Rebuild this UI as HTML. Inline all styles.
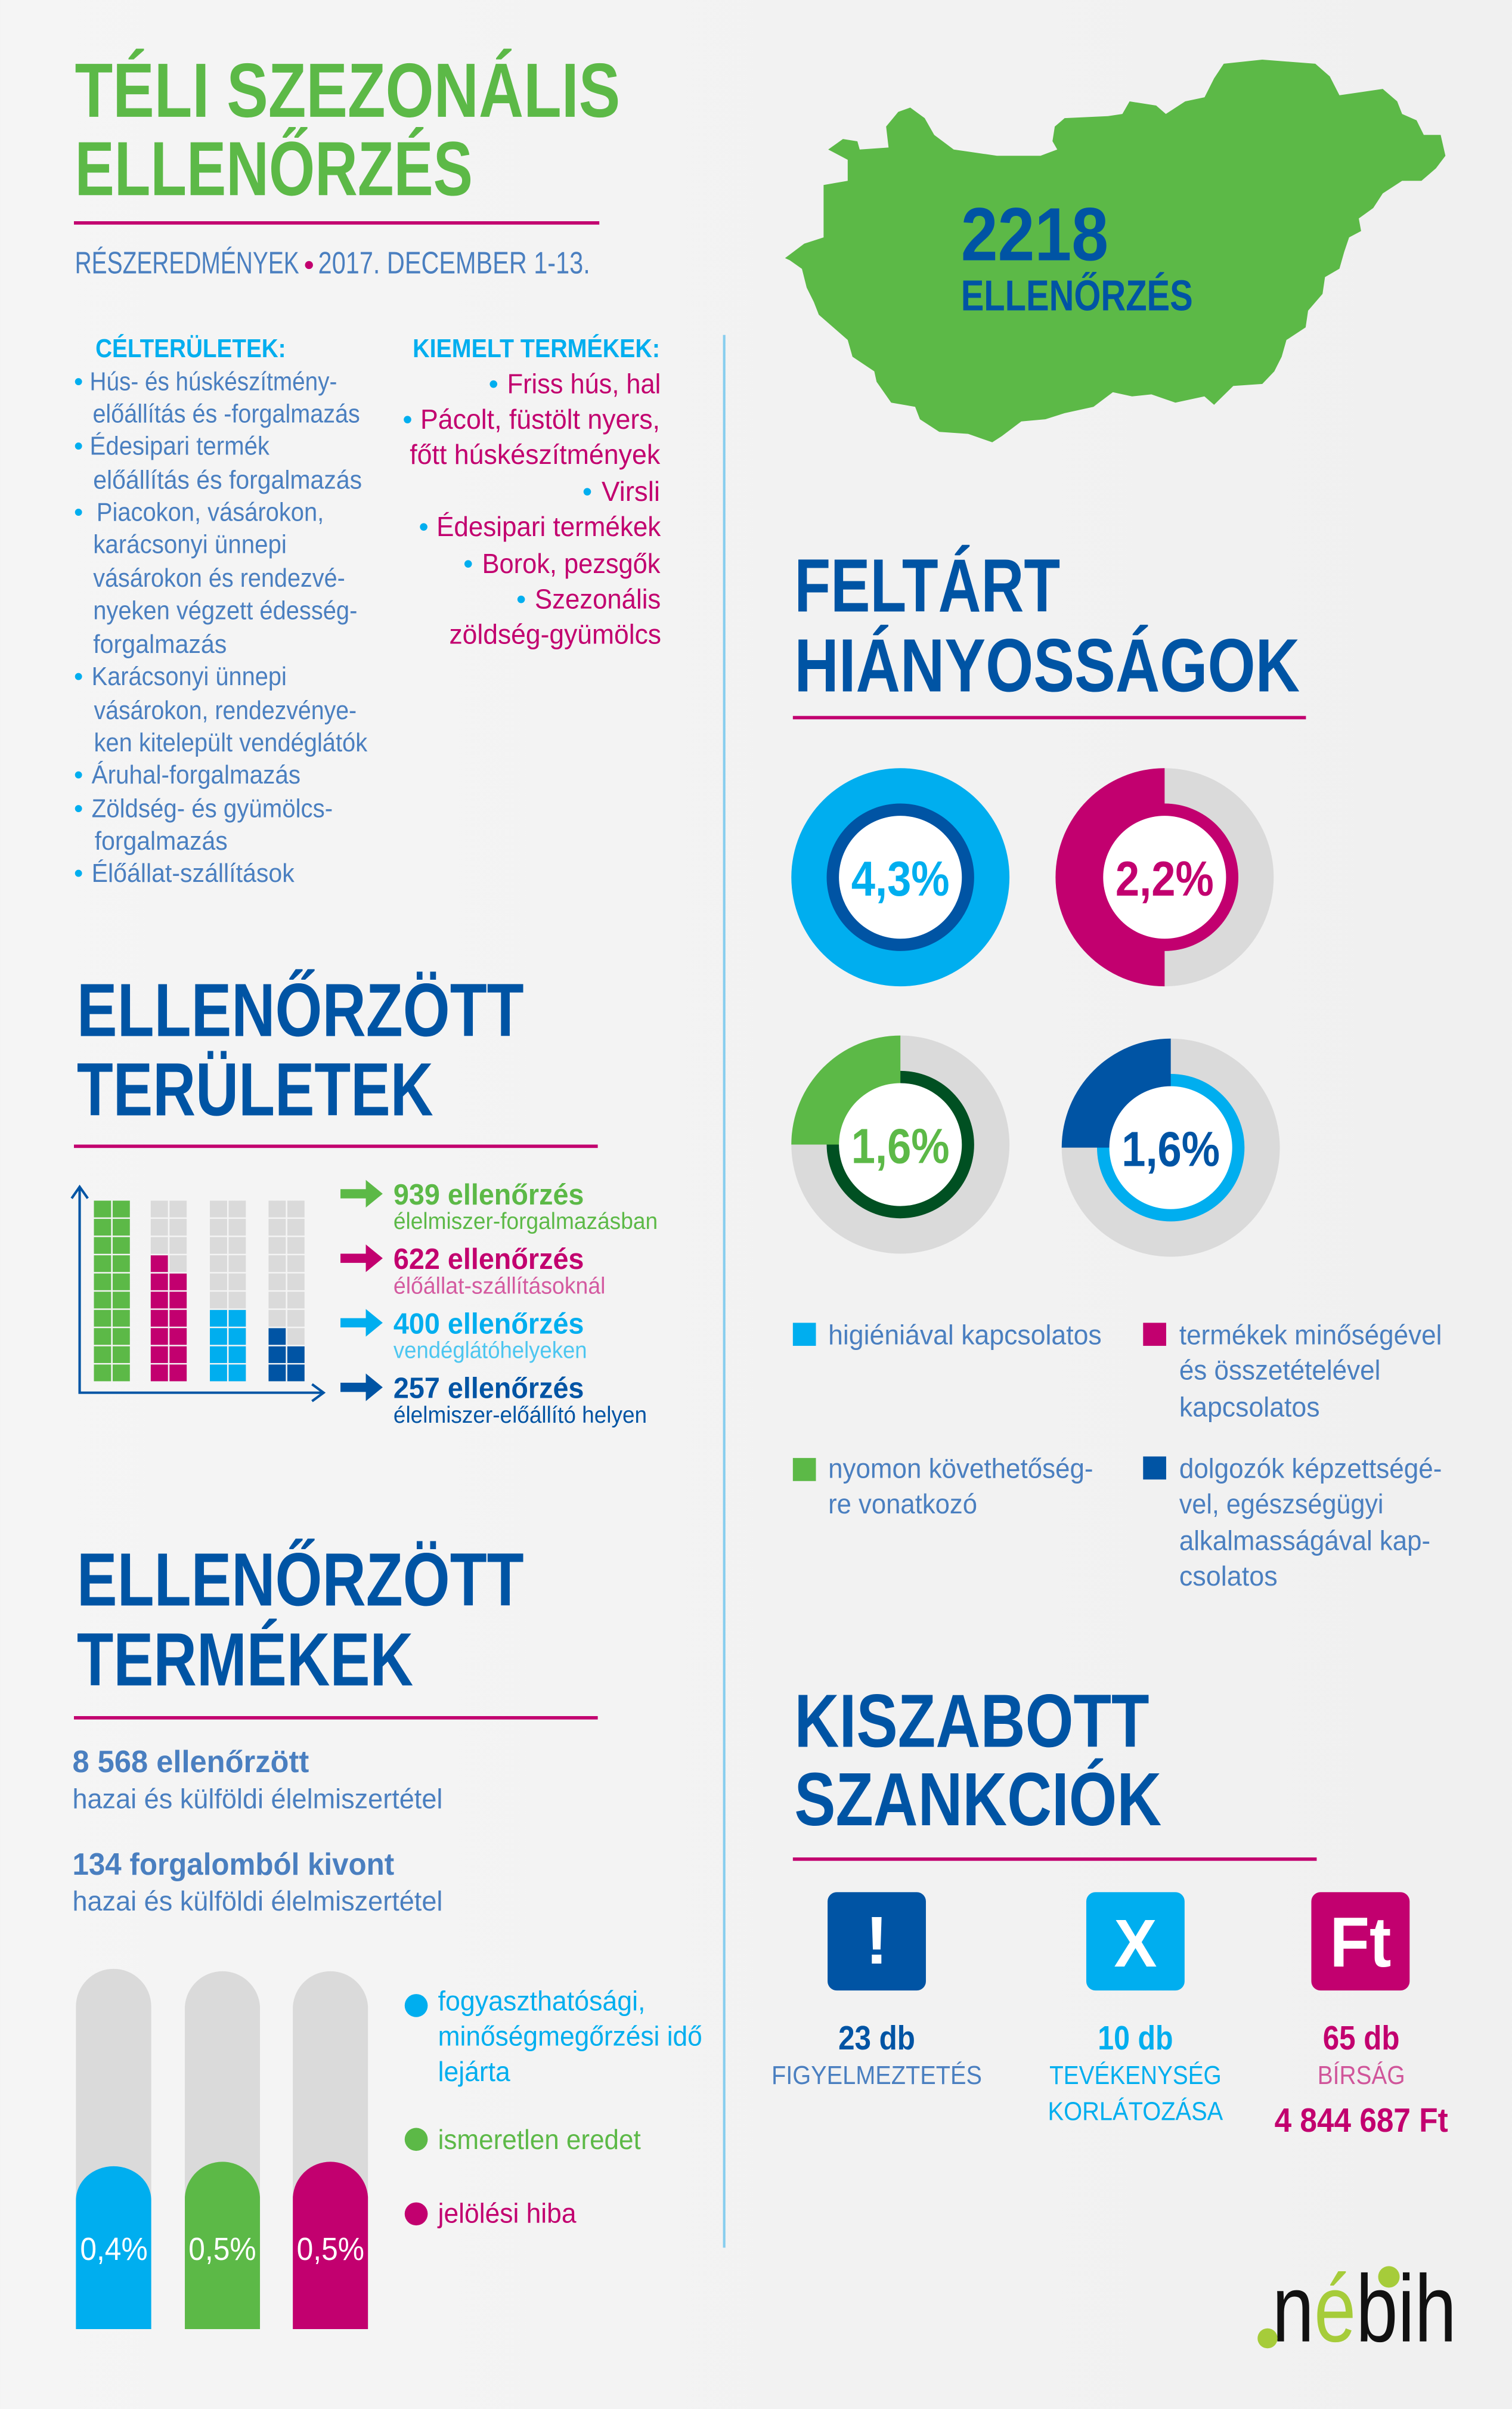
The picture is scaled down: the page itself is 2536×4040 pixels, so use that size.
<!DOCTYPE html>
<html><head><meta charset="utf-8"><style>
html,body{margin:0;padding:0;background:#f2f2f2;}
svg{display:block}
text{font-family:"Liberation Sans",sans-serif;}
.h{font-weight:bold;fill:#0054a4}
.b{fill:#4a7fc0}
.m{fill:#c2006f}
.c{fill:#00aeef}
</style></head><body>
<svg width="2536" height="4040" viewBox="0 0 984 1568" xmlns="http://www.w3.org/2000/svg">
<defs><linearGradient id="bg" x1="0" x2="1"><stop offset="0" stop-color="#f5f5f5"/><stop offset="1" stop-color="#f0f0f0"/></linearGradient></defs>
<rect width="984" height="1568" fill="url(#bg)"/>

<!-- Title -->
<text x="48.6" y="76" font-size="50" font-weight="bold" fill="#5cb947" textLength="355" lengthAdjust="spacingAndGlyphs">TÉLI SZEZONÁLIS</text>
<text x="48.6" y="127" font-size="50" font-weight="bold" fill="#5cb947" textLength="259" lengthAdjust="spacingAndGlyphs">ELLENŐRZÉS</text>
<rect x="48" y="144" width="342" height="2.2" fill="#c2006f"/>
<text x="48.6" y="178" font-size="20" fill="#4a7fc0" textLength="146" lengthAdjust="spacingAndGlyphs">RÉSZEREDMÉNYEK</text>
<circle cx="201" cy="172.5" r="2.6" fill="#c2006f"/>
<text x="207" y="178" font-size="20" fill="#4a7fc0" textLength="177" lengthAdjust="spacingAndGlyphs">2017. DECEMBER 1-13.</text>

<rect x="470.5" y="218" width="1.6" height="1245" fill="#86cdee"/>

<!-- Célterületek -->
<text x="62" y="232.5" font-size="17" font-weight="bold" class="c" textLength="124" lengthAdjust="spacingAndGlyphs">CÉLTERÜLETEK:</text>
<g class="b" font-size="17">
<text x="48" y="254" fill="#00aeef">•</text><text x="58.3" y="254" textLength="161" lengthAdjust="spacingAndGlyphs">Hús- és húskészítmény-</text>
<text x="60.2" y="275" textLength="174" lengthAdjust="spacingAndGlyphs">előállítás és -forgalmazás</text>
<text x="48" y="296" fill="#00aeef">•</text><text x="58.3" y="296" textLength="117" lengthAdjust="spacingAndGlyphs">Édesipari termék</text>
<text x="60.5" y="318" textLength="175" lengthAdjust="spacingAndGlyphs">előállítás és forgalmazás</text>
<text x="48" y="339" fill="#00aeef">•</text><text x="62.7" y="339" textLength="148" lengthAdjust="spacingAndGlyphs">Piacokon, vásárokon,</text>
<text x="60.5" y="360" textLength="126" lengthAdjust="spacingAndGlyphs">karácsonyi ünnepi</text>
<text x="60.5" y="382" textLength="164" lengthAdjust="spacingAndGlyphs">vásárokon és rendezvé-</text>
<text x="60.5" y="403" textLength="172" lengthAdjust="spacingAndGlyphs">nyeken végzett édesség-</text>
<text x="60.5" y="425" textLength="87" lengthAdjust="spacingAndGlyphs">forgalmazás</text>
<text x="48" y="446" fill="#00aeef">•</text><text x="59.5" y="446" textLength="127" lengthAdjust="spacingAndGlyphs">Karácsonyi ünnepi</text>
<text x="61" y="468" textLength="171" lengthAdjust="spacingAndGlyphs">vásárokon, rendezvénye-</text>
<text x="61" y="489" textLength="178" lengthAdjust="spacingAndGlyphs">ken kitelepült vendéglátók</text>
<text x="48" y="510" fill="#00aeef">•</text><text x="59.5" y="510" textLength="136" lengthAdjust="spacingAndGlyphs">Áruhal-forgalmazás</text>
<text x="48" y="532" fill="#00aeef">•</text><text x="59.5" y="532" textLength="157" lengthAdjust="spacingAndGlyphs">Zöldség- és gyümölcs-</text>
<text x="61.5" y="553" textLength="86.5" lengthAdjust="spacingAndGlyphs">forgalmazás</text>
<text x="48" y="574" fill="#00aeef">•</text><text x="59.5" y="574" textLength="132" lengthAdjust="spacingAndGlyphs">Élőállat-szállítások</text>
</g>

<!-- Kiemelt -->
<text x="268.5" y="232.5" font-size="17" font-weight="bold" class="c" textLength="161" lengthAdjust="spacingAndGlyphs">KIEMELT TERMÉKEK:</text>
<g class="m" font-size="18">
<text x="318" y="256" fill="#00aeef">•</text><text x="330" y="256" textLength="100" lengthAdjust="spacingAndGlyphs">Friss hús, hal</text>
<text x="262" y="279" fill="#00aeef">•</text><text x="273.5" y="279" textLength="156" lengthAdjust="spacingAndGlyphs">Pácolt, füstölt nyers,</text>
<text x="266.6" y="302" textLength="163" lengthAdjust="spacingAndGlyphs">főtt húskészítmények</text>
<text x="379" y="326" fill="#00aeef">•</text><text x="391.5" y="326" textLength="38" lengthAdjust="spacingAndGlyphs">Virsli</text>
<text x="272.5" y="349" fill="#00aeef">•</text><text x="284" y="349" textLength="146" lengthAdjust="spacingAndGlyphs">Édesipari termékek</text>
<text x="301.5" y="373" fill="#00aeef">•</text><text x="313.7" y="373" textLength="116" lengthAdjust="spacingAndGlyphs">Borok, pezsgők</text>
<text x="336" y="396" fill="#00aeef">•</text><text x="348" y="396" textLength="82" lengthAdjust="spacingAndGlyphs">Szezonális</text>
<text x="292.3" y="419" textLength="138" lengthAdjust="spacingAndGlyphs">zöldség-gyümölcs</text>
</g>

<!-- Map -->
<polygon fill="#5cb947" points="510.9,168 523.4,158.6 536,154.5 536,120.4 551.7,117.7 551.7,104 539,97.3 548.6,90.5 558,92 559.5,97.3 578.3,96 576.7,82.4 584.6,72.8 592.4,70 601.8,76.9 608,87.8 620.7,97.3 648.9,101.4 677.2,101.4 688.1,97.3 685,91.9 686.5,82.4 692.9,76.9 721.1,75.6 730.5,74.2 735.2,66 752.5,68.7 758.8,74.2 771.4,66 784,63.3 790.2,51 796.5,41.5 821.6,38.8 856.1,41.5 865.5,49.7 871.8,62 900,57.9 909.4,66 912.6,74.2 922,78.3 926.7,87.8 937.7,87.8 940.8,101.4 934.6,109.6 925.2,117.7 912.6,117.7 900,125.9 893.8,135.4 884.4,142.2 885.9,150.4 878.1,154.5 874.9,164 871.8,174.9 862.4,180.4 860.8,191.3 851.4,202.2 849.8,213.1 837.3,221.3 834.2,232.2 829.4,241.7 821.6,249.9 802.7,251.2 790.2,263.5 783.9,258 765,262.1 749.4,256.7 736.8,258 724.3,255.3 711.7,264.8 692.9,268.9 680.4,272.9 664.7,274.3 652.1,283.8 645.8,287.9 630.1,282.4 611.3,281.1 598.7,272.9 595.6,264.8 580,262.1 570.5,248.5 569,241.7 554.8,232.2 551.7,221.3 542.3,213.1 532.9,204.9 529.7,196.7 525,187.2 521.9,175 514,169.4"/>
<text x="625.4" y="169.5" class="h" font-size="49" textLength="96" lengthAdjust="spacingAndGlyphs">2218</text>
<text x="625.4" y="202" class="h" font-size="28" textLength="151" lengthAdjust="spacingAndGlyphs">ELLENŐRZÉS</text>

<!-- Feltárt -->
<text x="517" y="398" class="h" font-size="49" textLength="173" lengthAdjust="spacingAndGlyphs">FELTÁRT</text>
<text x="517" y="450" class="h" font-size="49" textLength="329" lengthAdjust="spacingAndGlyphs">HIÁNYOSSÁGOK</text>
<rect x="516" y="466" width="334" height="2.2" fill="#c2006f"/>

<!-- Donuts -->
<g>
<circle cx="586" cy="571" r="71" fill="#00aeef"/>
<circle cx="586" cy="571" r="48" fill="#0054a4"/>
<circle cx="586" cy="571" r="40" fill="#fff"/>
<text x="586" y="583" text-anchor="middle" font-size="32" font-weight="bold" fill="#00aeef" textLength="64" lengthAdjust="spacingAndGlyphs">4,3%</text>

<circle cx="758" cy="571" r="71" fill="#dadada"/>
<path d="M758,500 A71,71 0 0 0 758,642 Z" fill="#c2006f"/>
<circle cx="758" cy="571" r="48" fill="#c2006f"/>
<circle cx="758" cy="571" r="40" fill="#fff"/>
<text x="758" y="583" text-anchor="middle" font-size="32" font-weight="bold" fill="#c2006f" textLength="64" lengthAdjust="spacingAndGlyphs">2,2%</text>

<circle cx="586" cy="745" r="71" fill="#dadada"/>
<circle cx="586" cy="745" r="48" fill="#005022"/>
<path d="M586,745 L515,745 A71,71 0 0 1 586,674 Z" fill="#5cb947"/>
<circle cx="586" cy="745" r="40" fill="#fff"/>
<text x="586" y="757" text-anchor="middle" font-size="32" font-weight="bold" fill="#5cb947" textLength="64" lengthAdjust="spacingAndGlyphs">1,6%</text>

<circle cx="762" cy="747" r="71" fill="#dadada"/>
<circle cx="762" cy="747" r="48" fill="#00aeef"/>
<path d="M762,747 L691,747 A71,71 0 0 1 762,676 Z" fill="#0054a4"/>
<circle cx="762" cy="747" r="40" fill="#fff"/>
<text x="762" y="759" text-anchor="middle" font-size="32" font-weight="bold" fill="#0054a4" textLength="64" lengthAdjust="spacingAndGlyphs">1,6%</text>
</g>

<!-- Legend -->
<g class="b" font-size="18">
<rect x="516" y="861" width="15" height="15" fill="#00aeef"/>
<text x="539" y="875" textLength="178" lengthAdjust="spacingAndGlyphs">higiéniával kapcsolatos</text>
<rect x="744" y="861" width="15" height="15" fill="#c2006f"/>
<text x="767.5" y="875" textLength="171" lengthAdjust="spacingAndGlyphs">termékek minőségével</text>
<text x="767.5" y="898" textLength="131" lengthAdjust="spacingAndGlyphs">és összetételével</text>
<text x="767.5" y="922" textLength="91.5" lengthAdjust="spacingAndGlyphs">kapcsolatos</text>
<rect x="516" y="949" width="15" height="15" fill="#5cb947"/>
<text x="539" y="962" textLength="172.5" lengthAdjust="spacingAndGlyphs">nyomon követhetőség-</text>
<text x="539" y="985" textLength="97" lengthAdjust="spacingAndGlyphs">re vonatkozó</text>
<rect x="744" y="948" width="15" height="15" fill="#0054a4"/>
<text x="767.5" y="962" textLength="171" lengthAdjust="spacingAndGlyphs">dolgozók képzettségé-</text>
<text x="767.5" y="985" textLength="133" lengthAdjust="spacingAndGlyphs">vel, egészségügyi</text>
<text x="767.5" y="1009" textLength="163.5" lengthAdjust="spacingAndGlyphs">alkalmasságával kap-</text>
<text x="767.5" y="1032" textLength="64" lengthAdjust="spacingAndGlyphs">csolatos</text>
</g>

<!-- Ellenőrzött területek -->
<text x="49.9" y="674.3" class="h" font-size="49" textLength="291" lengthAdjust="spacingAndGlyphs">ELLENŐRZÖTT</text>
<text x="49.9" y="726" class="h" font-size="49" textLength="232" lengthAdjust="spacingAndGlyphs">TERÜLETEK</text>
<rect x="48" y="745" width="341" height="2.2" fill="#c2006f"/>

<!-- axes -->
<g stroke="#0054a4" stroke-width="1.6" fill="none">
<path d="M51.7,773 V906.5 H210"/>
<path d="M46.5,780 L51.7,772.5 L57,780"/>
<path d="M203,901 L210.5,906.5 L203,912"/>
</g>
<!-- grid -->
<g>
<rect x="61" y="781.5" width="23.4" height="117.55" fill="#5cb947"/>
<rect x="98" y="781.5" width="23.4" height="117.55" fill="#dadada"/>
<rect x="98" y="828.9" width="23.4" height="70.15" fill="#c2006f"/>
<rect x="98" y="817.05" width="11.2" height="11" fill="#c2006f"/>
<rect x="136.5" y="781.5" width="23.4" height="117.55" fill="#dadada"/>
<rect x="136.5" y="852.6" width="23.4" height="46.45" fill="#00aeef"/>
<rect x="174.7" y="781.5" width="23.4" height="117.55" fill="#dadada"/>
<rect x="174.7" y="876.3" width="23.4" height="22.75" fill="#0054a4"/>
<rect x="174.7" y="864.45" width="11.2" height="11" fill="#0054a4"/>
<g fill="#f4f4f4">
<rect x="72.2" y="781" width="1" height="119"/>
<rect x="109.2" y="781" width="1" height="119"/>
<rect x="147.7" y="781" width="1" height="119"/>
<rect x="185.9" y="781" width="1" height="119"/>
<rect x="58" y="792.4" width="145" height="0.95"/>
<rect x="58" y="804.25" width="145" height="0.95"/>
<rect x="58" y="816.1" width="145" height="0.95"/>
<rect x="58" y="827.95" width="145" height="0.95"/>
<rect x="58" y="839.8" width="145" height="0.95"/>
<rect x="58" y="851.65" width="145" height="0.95"/>
<rect x="58" y="863.5" width="145" height="0.95"/>
<rect x="58" y="875.35" width="145" height="0.95"/>
<rect x="58" y="887.2" width="145" height="0.95"/>
</g>
</g>
<!-- arrows + labels -->
<g>
<path d="M221.5,774 H238 V768 L249,777 L238,786 V780 H221.5 Z" fill="#5cb947"/>
<text x="256" y="784" font-size="19" font-weight="bold" fill="#5cb947" textLength="124" lengthAdjust="spacingAndGlyphs">939 ellenőrzés</text>
<text x="256" y="800" font-size="15" fill="#5cb947" textLength="172" lengthAdjust="spacingAndGlyphs">élelmiszer-forgalmazásban</text>
<path d="M221.5,816 H238 V810 L249,819 L238,828 V822 H221.5 Z" fill="#c2006f"/>
<text x="256" y="826" font-size="19" font-weight="bold" fill="#c2006f" textLength="124" lengthAdjust="spacingAndGlyphs">622 ellenőrzés</text>
<text x="256" y="842" font-size="15" fill="#d45aa0" textLength="138" lengthAdjust="spacingAndGlyphs">élőállat-szállításoknál</text>
<path d="M221.5,858 H238 V852 L249,861 L238,870 V864 H221.5 Z" fill="#00aeef"/>
<text x="256" y="868" font-size="19" font-weight="bold" fill="#00aeef" textLength="124" lengthAdjust="spacingAndGlyphs">400 ellenőrzés</text>
<text x="256" y="884" font-size="15" fill="#4cc6f0" textLength="126" lengthAdjust="spacingAndGlyphs">vendéglátóhelyeken</text>
<path d="M221.5,900 H238 V894 L249,903 L238,912 V906 H221.5 Z" fill="#0054a4"/>
<text x="256" y="910" font-size="19" font-weight="bold" fill="#0054a4" textLength="124" lengthAdjust="spacingAndGlyphs">257 ellenőrzés</text>
<text x="256" y="926" font-size="15" fill="#0054a4" textLength="165" lengthAdjust="spacingAndGlyphs">élelmiszer-előállító helyen</text>
</g>

<!-- Ellenőrzött termékek -->
<text x="49.9" y="1045" class="h" font-size="49" textLength="291" lengthAdjust="spacingAndGlyphs">ELLENŐRZÖTT</text>
<text x="49.9" y="1097" class="h" font-size="49" textLength="219" lengthAdjust="spacingAndGlyphs">TERMÉKEK</text>
<rect x="48" y="1117" width="341" height="2.2" fill="#c2006f"/>
<text x="47" y="1153.5" font-size="20" font-weight="bold" fill="#4a7fc0" textLength="154" lengthAdjust="spacingAndGlyphs">8 568 ellenőrzött</text>
<text x="47" y="1177" font-size="18" fill="#4a7fc0" textLength="241" lengthAdjust="spacingAndGlyphs">hazai és külföldi élelmiszertétel</text>
<text x="47" y="1220.3" font-size="20" font-weight="bold" fill="#4a7fc0" textLength="209.5" lengthAdjust="spacingAndGlyphs">134 forgalomból kivont</text>
<text x="47" y="1243.6" font-size="18" fill="#4a7fc0" textLength="241" lengthAdjust="spacingAndGlyphs">hazai és külföldi élelmiszertétel</text>

<!-- pills -->
<g>
<path d="M49.3,1516 V1306 A24.5,24.5 0 0 1 98.3,1306 V1516 Z" fill="#dadada"/>
<path d="M120.2,1516 V1306 A24.5,24.5 0 0 1 169.1,1306 V1516 Z" fill="#dadada"/>
<path d="M190.5,1516 V1306 A24.5,24.5 0 0 1 239.4,1306 V1516 Z" fill="#dadada"/>
<path d="M49.3,1516 V1432 A24.5,22 0 0 1 98.3,1432 V1516 Z" fill="#00aeef"/>
<path d="M120.2,1516 V1430 A24.5,24.5 0 0 1 169.1,1430 V1516 Z" fill="#5cb947"/>
<path d="M190.5,1516 V1430 A24.5,24.5 0 0 1 239.4,1430 V1516 Z" fill="#c2006f"/>
<text x="74" y="1471" text-anchor="middle" font-size="21" fill="#fff" textLength="44" lengthAdjust="spacingAndGlyphs">0,4%</text>
<text x="144.6" y="1471" text-anchor="middle" font-size="21" fill="#fff" textLength="44" lengthAdjust="spacingAndGlyphs">0,5%</text>
<text x="215" y="1471" text-anchor="middle" font-size="21" fill="#fff" textLength="44" lengthAdjust="spacingAndGlyphs">0,5%</text>
</g>
<g font-size="18">
<circle cx="270.8" cy="1305.4" r="7.5" fill="#00aeef"/>
<text x="285" y="1308.5" fill="#00aeef" textLength="135" lengthAdjust="spacingAndGlyphs">fogyaszthatósági,</text>
<text x="285" y="1331.4" fill="#00aeef" textLength="172" lengthAdjust="spacingAndGlyphs">minőségmegőrzési idő</text>
<text x="285" y="1354.5" fill="#00aeef" textLength="47" lengthAdjust="spacingAndGlyphs">lejárta</text>
<circle cx="270.8" cy="1392.5" r="7.5" fill="#5cb947"/>
<text x="285" y="1398.7" fill="#5cb947" textLength="132" lengthAdjust="spacingAndGlyphs">ismeretlen eredet</text>
<circle cx="270.8" cy="1441" r="7.5" fill="#c2006f"/>
<text x="285" y="1446.8" fill="#c2006f" textLength="90" lengthAdjust="spacingAndGlyphs">jelölési hiba</text>
</g>

<!-- Szankciók -->
<text x="517" y="1137" class="h" font-size="49" textLength="231" lengthAdjust="spacingAndGlyphs">KISZABOTT</text>
<text x="517" y="1188" class="h" font-size="49" textLength="239" lengthAdjust="spacingAndGlyphs">SZANKCIÓK</text>
<rect x="516" y="1209" width="341" height="2.2" fill="#c2006f"/>
<rect x="538.6" y="1231.6" width="64" height="64" rx="6" fill="#0054a4"/>
<text x="570.6" y="1278" text-anchor="middle" font-size="44" font-weight="bold" fill="#fff">!</text>
<rect x="707" y="1231.6" width="64" height="64" rx="6" fill="#00aeef"/>
<text x="739" y="1280" text-anchor="middle" font-size="44" font-weight="bold" fill="#fff" textLength="28" lengthAdjust="spacingAndGlyphs">X</text>
<rect x="853.5" y="1231.6" width="64" height="64" rx="6" fill="#c2006f"/>
<text x="885.5" y="1280" text-anchor="middle" font-size="46" font-weight="bold" fill="#fff" textLength="40" lengthAdjust="spacingAndGlyphs">Ft</text>

<text x="570.6" y="1334" text-anchor="middle" font-size="22" font-weight="bold" fill="#0054a4" textLength="50" lengthAdjust="spacingAndGlyphs">23 db</text>
<text x="570.6" y="1356.5" text-anchor="middle" font-size="17" fill="#4a7fc0" textLength="137" lengthAdjust="spacingAndGlyphs">FIGYELMEZTETÉS</text>
<text x="739" y="1334" text-anchor="middle" font-size="22" font-weight="bold" fill="#00aeef" textLength="49" lengthAdjust="spacingAndGlyphs">10 db</text>
<text x="739" y="1356.5" text-anchor="middle" font-size="17" fill="#00aeef" textLength="112" lengthAdjust="spacingAndGlyphs">TEVÉKENYSÉG</text>
<text x="739" y="1380" text-anchor="middle" font-size="17" fill="#00aeef" textLength="114" lengthAdjust="spacingAndGlyphs">KORLÁTOZÁSA</text>
<text x="886" y="1334" text-anchor="middle" font-size="22" font-weight="bold" fill="#c2006f" textLength="50" lengthAdjust="spacingAndGlyphs">65 db</text>
<text x="886" y="1356.5" text-anchor="middle" font-size="17" fill="#d0559a" textLength="57" lengthAdjust="spacingAndGlyphs">BÍRSÁG</text>
<text x="886" y="1387.5" text-anchor="middle" font-size="22" font-weight="bold" fill="#c2006f" textLength="113" lengthAdjust="spacingAndGlyphs">4 844 687 Ft</text>

<!-- logo -->
<g>
<text x="828" y="1524" font-size="62" fill="#111" textLength="120" lengthAdjust="spacingAndGlyphs">n<tspan fill="#a6cc3a">é</tspan>bih</text>
<circle cx="825" cy="1522" r="6.5" fill="#a6cc3a"/>
<circle cx="904" cy="1482" r="7" fill="#a6cc3a"/>
</g>
</svg>
</body></html>
